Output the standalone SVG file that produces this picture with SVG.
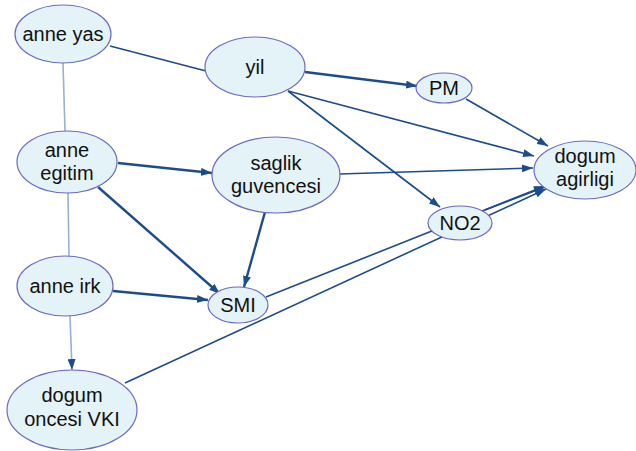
<svg xmlns="http://www.w3.org/2000/svg" width="636" height="451" viewBox="0 0 636 451">
  <defs>
    <style>
      .node ellipse { fill: #e3f3f7; stroke: #6a6ac4; stroke-width: 1.2; }
      .node text { font-family: "Liberation Sans", Arial, sans-serif; font-size: 20px; fill: #111; text-anchor: middle; }
      .edge { stroke: #1d4c8c; stroke-width: 1.6; fill: none; }
      .edge.bold { stroke-width: 2.4; }
      .edge.light { stroke: #98b0d2; stroke-width: 1.6; }
    </style>
    <marker id="arrow" markerUnits="userSpaceOnUse" markerWidth="11" markerHeight="8" refX="11" refY="4" orient="auto">
      <path d="M0,0 L11,4 L0,8 z" fill="#1d4c8c"/>
    </marker>
  </defs>
  <rect width="636" height="451" fill="#ffffff"/>

  <g id="connectors">
    <line class="edge" x1="110" y1="46" x2="206" y2="71"/>
    <line class="edge light" x1="63" y1="63" x2="65" y2="131"/>
    <line class="edge light" x1="68" y1="193" x2="69" y2="256"/>
    <line class="edge light" x1="70" y1="316" x2="72" y2="370" marker-end="url(#arrow)"/>
    <line class="edge bold" x1="118" y1="163" x2="212" y2="173" marker-end="url(#arrow)"/>
    <line class="edge bold" x1="98" y1="187" x2="220" y2="294" marker-end="url(#arrow)"/>
    <line class="edge bold" x1="265" y1="212" x2="244" y2="287" marker-end="url(#arrow)"/>
    <line class="edge bold" x1="113" y1="291" x2="208" y2="300" marker-end="url(#arrow)"/>
    <line class="edge bold" x1="305" y1="72" x2="417" y2="86" marker-end="url(#arrow)"/>
    <line class="edge" x1="288" y1="91" x2="534" y2="156" marker-end="url(#arrow)"/>
    <line class="edge" x1="288" y1="91" x2="440" y2="207" marker-end="url(#arrow)"/>
    <line class="edge" x1="466" y1="99" x2="548" y2="146" marker-end="url(#arrow)"/>
    <line class="edge" x1="339" y1="174" x2="533" y2="168" marker-end="url(#arrow)"/>
    <line class="edge" x1="485" y1="210" x2="545" y2="187" marker-end="url(#arrow)"/>
    <line class="edge" x1="266" y1="297" x2="545" y2="186" marker-end="url(#arrow)"/>
    <line class="edge" x1="125" y1="383" x2="546" y2="189" marker-end="url(#arrow)"/>
  </g>

  <g id="anne-yas" class="node">
    <ellipse cx="63" cy="34" rx="48" ry="29"/>
    <text x="63" y="41">anne yas</text>
  </g>
  <g id="yil" class="node">
    <ellipse cx="255" cy="67" rx="50" ry="30"/>
    <text x="255" y="74">yil</text>
  </g>
  <g id="anne-egitim" class="node">
    <ellipse cx="67" cy="162" rx="50" ry="31"/>
    <text x="67" y="157">anne</text>
    <text x="67" y="180">egitim</text>
  </g>
  <g id="saglik-guvencesi" class="node">
    <ellipse cx="276" cy="175" rx="64" ry="38"/>
    <text x="276" y="170">saglik</text>
    <text x="276" y="193">guvencesi</text>
  </g>
  <g id="pm" class="node">
    <ellipse cx="444" cy="88" rx="28" ry="15"/>
    <text x="444" y="95">PM</text>
  </g>
  <g id="dogum-agirligi" class="node">
    <ellipse cx="585" cy="170" rx="51" ry="29"/>
    <text x="585" y="163">dogum</text>
    <text x="585" y="186">agirligi</text>
  </g>
  <g id="no2" class="node">
    <ellipse cx="460" cy="223" rx="32" ry="17"/>
    <text x="460" y="230">NO2</text>
  </g>
  <g id="anne-irk" class="node">
    <ellipse cx="65" cy="286" rx="48" ry="30"/>
    <text x="65" y="293">anne irk</text>
  </g>
  <g id="smi" class="node">
    <ellipse cx="238" cy="305" rx="30" ry="18"/>
    <text x="238" y="312">SMI</text>
  </g>
  <g id="dogum-oncesi-vki" class="node">
    <ellipse cx="72" cy="410" rx="65" ry="40"/>
    <text x="72" y="402">dogum</text>
    <text x="72" y="426">oncesi VKI</text>
  </g>
</svg>
